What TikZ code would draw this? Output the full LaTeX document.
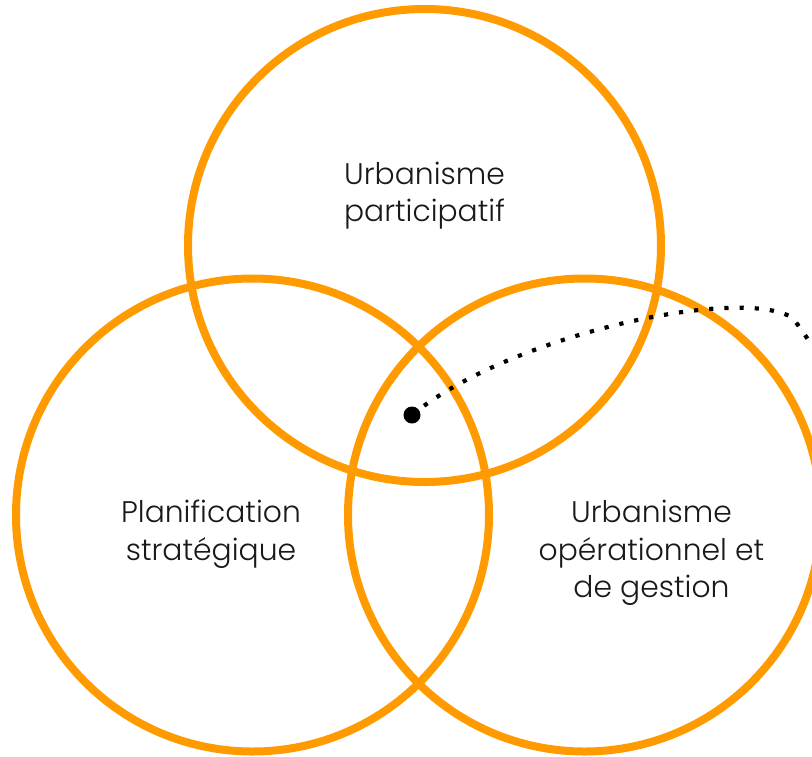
\documentclass[tikz,border=0pt]{standalone}
\usepackage{fontspec}
\setmainfont{Poppins Light}[Ligatures=NoCommon]
\definecolor{ringorange}{HTML}{FF9B00}
\begin{document}
\begin{tikzpicture}[x=1pt,y=-1pt,
  ring/.style={draw=ringorange,line width=8pt,circle,minimum size=473pt,inner sep=0pt},
  lbl/.style={align=center,font=\fontsize{29.8}{37.5}\selectfont,text=black!90},
  dotline/.style={line width=4.2pt,dash pattern=on 4.2pt off 11pt}]
\useasboundingbox (0,0) rectangle (812,756);
\node[ring] (top) at (424.5,245.5) {};
\node[ring] (left) at (252.5,515) {};
\node[ring] (right) at (584.5,515) {};
\node[lbl] (tl) at (424.5,195.5) {Urbanisme\\participatif};
\node[lbl] (ll) at (211,534) {Planification\\stratégique};
\node[lbl] (rl) at (651.5,553) {Urbanisme\\opérationnel et\\de gestion};
\node[circle,fill=black,minimum size=17pt,inner sep=0pt] (dot) at (412,415) {};
\coordinate (end) at (826,365);
\draw[dotline] (dot.center) .. controls (510,335) and (740,285) .. (793,318) -- (end);
\end{tikzpicture}
\end{document}
